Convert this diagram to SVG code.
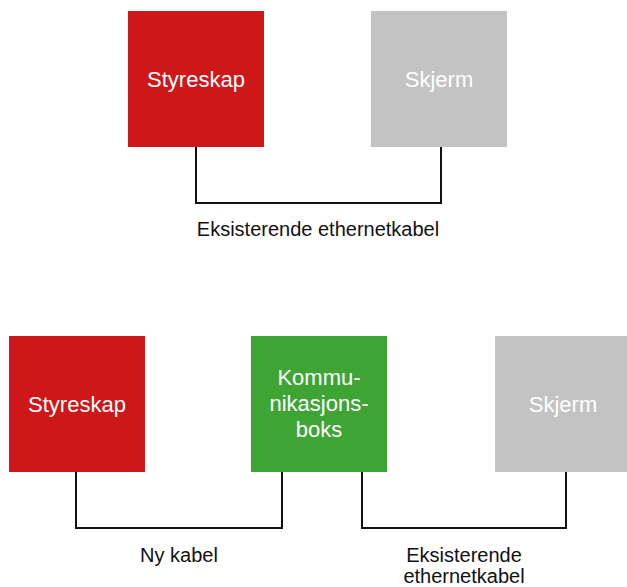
<svg xmlns="http://www.w3.org/2000/svg" width="627" height="587" viewBox="0 0 627 587">
<style>
.red{fill:#CD1719}
.green{fill:#3EA535}
.grey{fill:#C3C3C3}
.nl{font-family:"Liberation Sans",Arial,sans-serif;font-size:22px;fill:#ffffff;text-anchor:middle}
.el{font-family:"Liberation Sans",Arial,sans-serif;font-size:20px;fill:#111111;text-anchor:middle}
.wire{fill:none;stroke:#111111;stroke-width:2}
</style>
<rect width="627" height="587" fill="#ffffff"/>
<g id="connectors">
<path class="wire" d="M196 147 V203 H441 V147"/>
<path class="wire" d="M76 472 V528 H282 V472"/>
<path class="wire" d="M362 472 V528 H566 V472"/>
<text class="el" x="318" y="236">Eksisterende ethernetkabel</text>
<text class="el" x="179" y="562">Ny kabel</text>
<text class="el" x="464" y="562">Eksisterende</text>
<text class="el" x="464" y="583">ethernetkabel</text>
</g>
<g id="styreskap1">
<rect class="red" x="128" y="11" width="136" height="136"/>
<text class="nl" x="196" y="87">Styreskap</text>
</g>
<g id="skjerm1">
<rect class="grey" x="371" y="11" width="136" height="136"/>
<text class="nl" x="439" y="87">Skjerm</text>
</g>
<g id="styreskap2">
<rect class="red" x="9" y="336" width="136" height="136"/>
<text class="nl" x="77" y="412">Styreskap</text>
</g>
<g id="kommunikasjonsboks">
<rect class="green" x="251" y="336" width="136" height="136"/>
<text class="nl" x="319" y="385">Kommu-</text>
<text class="nl" x="319" y="411">nikasjons-</text>
<text class="nl" x="319" y="437">boks</text>
</g>
<g id="skjerm2">
<rect class="grey" x="495" y="336" width="136" height="136"/>
<text class="nl" x="563" y="412">Skjerm</text>
</g>
</svg>
